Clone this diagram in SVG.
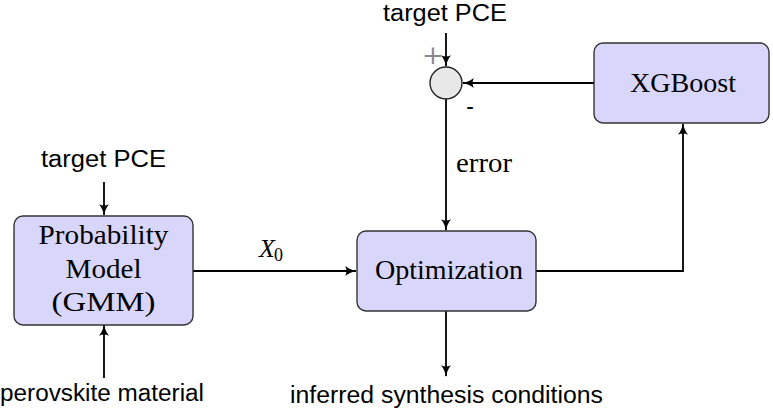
<svg xmlns="http://www.w3.org/2000/svg" width="773" height="413" viewBox="0 0 773 413">
<style>
.box{fill:#d9d6fc;stroke:#333;stroke-width:1.4}
.sum{fill:#e8e8e8;stroke:#222;stroke-width:1.4}
.sans{font-family:"Liberation Sans","DejaVu Sans",sans-serif;font-size:23px;fill:#000}
.serif{font-family:"Liberation Serif","DejaVu Serif",serif;font-size:27px;fill:#000}
.conn path{fill:none;stroke:#000;stroke-width:1.8}
</style>
<defs>
<marker id="arr" viewBox="0 0 10 10" refX="9" refY="5" markerWidth="12" markerHeight="12" markerUnits="userSpaceOnUse" orient="auto">
<path d="M0,0.8 Q4,4.2 10,5 Q4,5.8 0,9.2 Q2,5 0,0.8 Z" fill="#000"/>
</marker>
</defs>
<rect width="773" height="413" fill="#fff"/>
<g id="conns" class="conn">
<path d="M446,33 V66" marker-end="url(#arr)"/>
<path d="M594,83 H463" marker-end="url(#arr)"/>
<path d="M446,99 V230" marker-end="url(#arr)"/>
<path d="M536,271 H683 V124" marker-end="url(#arr)"/>
<path d="M446,311 V376" marker-end="url(#arr)"/>
<path d="M104,182 V215" marker-end="url(#arr)"/>
<path d="M104,378 V325" marker-end="url(#arr)"/>
<path d="M193,271 H356" marker-end="url(#arr)"/>
</g>
<g id="prob">
<rect class="box" x="14" y="216" width="179" height="109" rx="9"/>
<text class="serif" x="103.5" y="244" text-anchor="middle" textLength="130" lengthAdjust="spacingAndGlyphs">Probability</text>
<text class="serif" x="103.5" y="278" text-anchor="middle" textLength="76" lengthAdjust="spacingAndGlyphs">Model</text>
<text class="serif" x="103.5" y="311" text-anchor="middle" textLength="104" lengthAdjust="spacingAndGlyphs">(GMM)</text>
</g>
<g id="opt">
<rect class="box" x="357" y="231" width="179" height="80" rx="9"/>
<text class="serif" x="449" y="279" text-anchor="middle" textLength="148" lengthAdjust="spacingAndGlyphs">Optimization</text>
</g>
<g id="xgb">
<rect class="box" x="594" y="43" width="175" height="80" rx="9"/>
<text class="serif" x="683" y="92" text-anchor="middle" textLength="106" lengthAdjust="spacingAndGlyphs">XGBoost</text>
</g>
<g id="sum">
<circle class="sum" cx="446" cy="83" r="16"/>
<text x="433" y="64" text-anchor="middle" font-family="DejaVu Serif,serif" font-size="26" fill="#888">+</text>
<text class="sans" x="470" y="114" text-anchor="middle">-</text>
</g>
<g id="labels">
<text class="sans" x="445" y="21" font-size="22" text-anchor="middle" textLength="124" lengthAdjust="spacingAndGlyphs">target PCE</text>
<text class="sans" x="103.5" y="167" text-anchor="middle" textLength="125" lengthAdjust="spacingAndGlyphs">target PCE</text>
<text class="sans" x="102" y="401" text-anchor="middle" textLength="204" lengthAdjust="spacingAndGlyphs">perovskite material</text>
<text class="sans" x="446.5" y="403" text-anchor="middle" textLength="313" lengthAdjust="spacingAndGlyphs">inferred synthesis conditions</text>
<text class="serif" x="484" y="172" text-anchor="middle" font-size="25" textLength="56" lengthAdjust="spacingAndGlyphs">error</text>
<text x="259" y="257" font-family="Liberation Serif,serif" font-style="italic" font-size="26" fill="#000">X<tspan font-style="normal" font-size="18" dy="4" dx="-1">0</tspan></text>
</g>
</svg>
